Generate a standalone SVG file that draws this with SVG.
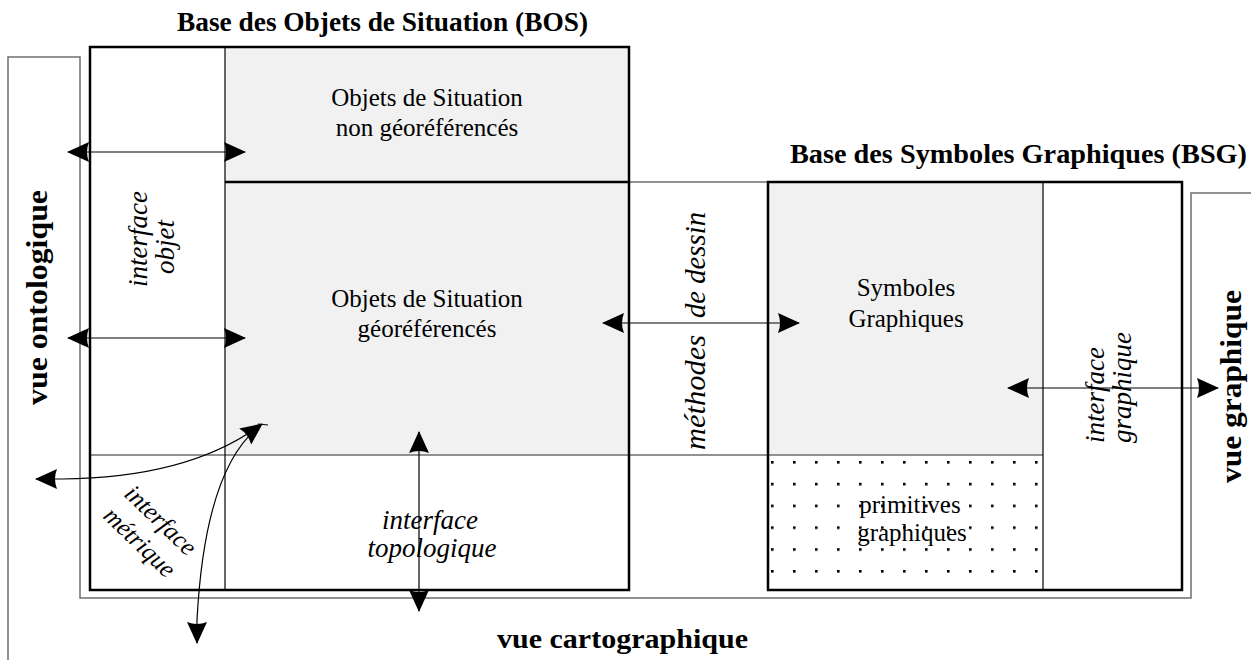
<svg xmlns="http://www.w3.org/2000/svg" width="1251" height="666" viewBox="0 0 1251 666">
<defs>
<style>
.serif{font-family:"Liberation Serif","Times New Roman",serif;fill:#000}
.title{font-size:27px;font-weight:bold}
.lbl{font-size:25px}
.ital{font-style:italic;font-size:27px}
.thick{fill:none;stroke:#000;stroke-width:2.5}
.thin{fill:none;stroke:#000;stroke-width:1.2}
.gray{fill:none;stroke:#6e6e6e;stroke-width:1.5}
.shade{fill:#f1f1f1;stroke:none}
.conn{fill:none;stroke:#000;stroke-width:1.2}
</style>
<marker id="ah" viewBox="0 0 22 20" refX="21" refY="10" markerWidth="22" markerHeight="20" markerUnits="userSpaceOnUse" orient="auto-start-reverse">
<path d="M0,0 Q4,10 0,20 L22,10 Z" fill="#000"/>
</marker>
<pattern id="dots" x="771" y="461" width="22" height="21.8" patternUnits="userSpaceOnUse">
<rect x="0" y="0" width="2.6" height="2.6" fill="#000"/>
</pattern>
</defs>

<g id="frames">
<polyline class="gray" points="8,660 8,57 80,57 80,598 1191,598 1191,193 1251,193"/>
</g>

<g id="bos">
<rect class="shade" x="225" y="47" width="404" height="135"/>
<rect class="shade" x="225" y="182" width="404" height="273"/>
<line class="gray" x1="90" y1="455" x2="768" y2="455"/>
<line class="gray" x1="629" y1="182" x2="768" y2="182"/>
<line class="thin" x1="225" y1="47" x2="225" y2="590"/>
<line class="thick" x1="225" y1="182" x2="629" y2="182"/>
<rect class="thick" x="90" y="47" width="539" height="543"/>
<text class="serif title" x="177" y="31" textLength="411" lengthAdjust="spacingAndGlyphs">Base des Objets de Situation (BOS)</text>
</g>

<g id="os-non-georef">
<text class="serif lbl" x="427" y="106" text-anchor="middle">Objets de Situation</text>
<text class="serif lbl" x="427" y="136" text-anchor="middle">non géoréférencés</text>
</g>

<g id="os-georef">
<text class="serif lbl" x="427" y="307" text-anchor="middle">Objets de Situation</text>
<text class="serif lbl" x="427" y="337" text-anchor="middle">géoréférencés</text>
</g>

<g id="interface-objet">
<text class="serif ital" transform="translate(147,239) rotate(-90)" text-anchor="middle">interface</text>
<text class="serif ital" transform="translate(174,247) rotate(-90)" text-anchor="middle">objet</text>
</g>

<g id="interface-metrique">
<text class="serif ital" style="font-size:25px" transform="translate(155,526) rotate(44)" text-anchor="middle">interface</text>
<text class="serif ital" style="font-size:25px" transform="translate(134,548) rotate(44)" text-anchor="middle">métrique</text>
</g>

<g id="interface-topologique">
<text class="serif ital" x="430" y="529" text-anchor="middle">interface</text>
<text class="serif ital" x="432" y="557" text-anchor="middle">topologique</text>
</g>

<g id="methodes-dessin">
<text class="serif ital" style="font-size:29px" transform="translate(705,450) rotate(-90)" textLength="115" lengthAdjust="spacingAndGlyphs">méthodes</text>
<text class="serif ital" style="font-size:29px" transform="translate(705,318) rotate(-90)" textLength="106" lengthAdjust="spacingAndGlyphs">de dessin</text>
</g>

<g id="bsg">
<rect class="shade" x="768" y="182" width="275" height="273"/>
<rect x="768" y="455" width="275" height="135" fill="url(#dots)"/>
<line class="gray" x1="768" y1="455" x2="1043" y2="455"/>
<line class="thin" x1="1043" y1="182" x2="1043" y2="590"/>
<rect class="thick" x="768" y="182" width="414" height="408"/>
<text class="serif title" x="790" y="163" textLength="457" lengthAdjust="spacingAndGlyphs">Base des Symboles Graphiques (BSG)</text>
</g>

<g id="symboles-graphiques">
<text class="serif lbl" x="906" y="296" text-anchor="middle">Symboles</text>
<text class="serif lbl" x="906" y="327" text-anchor="middle">Graphiques</text>
</g>

<g id="primitives-graphiques">
<text class="serif lbl" x="910" y="513" text-anchor="middle">primitives</text>
<text class="serif lbl" x="912" y="541" text-anchor="middle">graphiques</text>
</g>

<g id="interface-graphique">
<text class="serif ital" transform="translate(1104,443) rotate(-90)">interface</text>
<text class="serif ital" transform="translate(1131,443) rotate(-90)">graphique</text>
</g>

<g id="vues">
<text class="serif title" style="font-size:30px" transform="translate(47,405) rotate(-90)" textLength="215" lengthAdjust="spacingAndGlyphs">vue ontologique</text>
<text class="serif title" style="font-size:30px" transform="translate(1241,483) rotate(-90)" textLength="193" lengthAdjust="spacingAndGlyphs">vue graphique</text>
<text class="serif title" x="497" y="648" textLength="251" lengthAdjust="spacingAndGlyphs">vue cartographique</text>
</g>

<g id="connectors">
<line class="conn" x1="68" y1="152" x2="245" y2="152" marker-start="url(#ah)" marker-end="url(#ah)"/>
<line class="conn" x1="68" y1="338" x2="245" y2="338" marker-start="url(#ah)" marker-end="url(#ah)"/>
<line class="conn" x1="603" y1="323" x2="799" y2="323" marker-start="url(#ah)" marker-end="url(#ah)"/>
<line class="conn" x1="1008" y1="388" x2="1218" y2="388" marker-start="url(#ah)" marker-end="url(#ah)"/>
<line class="conn" x1="419" y1="432" x2="419" y2="611" marker-start="url(#ah)" marker-end="url(#ah)"/>
<path class="conn" d="M36,479 L62,479 Q190,478 262,424" marker-start="url(#ah)" marker-end="url(#ah)"/>
<path class="conn" d="M197,643 L197,620 Q205,468 260,426" marker-start="url(#ah)"/>
<line class="conn" x1="258" y1="424" x2="268" y2="425"/>
</g>
</svg>
